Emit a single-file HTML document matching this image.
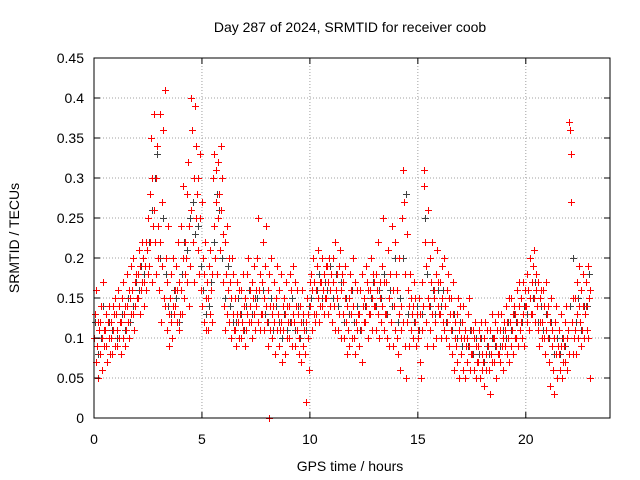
<!DOCTYPE html>
<html><head><meta charset="utf-8"><style>
body{margin:0;background:#fff;}
svg{display:block;font-family:"Liberation Sans",sans-serif;}
</style></head><body>
<svg id="chart" width="640" height="480" viewBox="0 0 640 480">
<rect width="640" height="480" fill="#fff"/>
<text x="350" y="32" font-size="14" text-anchor="middle">Day 287 of 2024, SRMTID for receiver coob</text>
<text x="350" y="471" font-size="14" text-anchor="middle">GPS time / hours</text>
<text transform="translate(19,238) rotate(-90)" font-size="14" text-anchor="middle">SRMTID / TECUs</text>
<g id="grid"></g>
<g id="grey"></g>
<g id="red"></g>
<g id="axes"></g>
</svg>
<script>
const xTicks=[0,5,10,15,20];
const yTicks=[0,0.05,0.1,0.15,0.2,0.25,0.3,0.35,0.4,0.45];
const yTickLabels=["0","0.05","0.1","0.15","0.2","0.25","0.3","0.35","0.4","0.45"];
const binHours=0.25;
const redBins=[
[10,13,7,16,9,12,5,11],[8,12,14,6,10,17,9,11],[11,9,13,7,12,10,14,8],[12,10,8,14,11,13,9,15],
[13,9,11,16,10,14,12,8],[12,15,10,17,13,9,14,11],[14,18,12,16,10,15,13,19],[16,13,20,11,17,14,18,15],
[18,15,21,13,19,16,22,17],[20,17,14,19,22,16,21,18],[25,19,28,22,35,17,30,24],[38,26,22,30,18,34,24,20],
[16,22,38,12,27,19,36,15],[41,14,20,11,17,24,13,9],[15,12,18,10,14,20,13,16],[14,19,12,16,22,11,17,13],
[16,24,13,20,29,15,18,22],[20,28,17,32,14,24,19,26],[40,36,22,30,17,39,25,34],[28,21,30,18,25,33,16,27],
[14,20,12,18,22,15,11,17],[15,11,19,13,21,16,12,18],[30,24,33,20,27,31,18,25],[32,28,21,34,26,30,17,23],
[14,22,11,18,24,13,16,20],[12,17,10,15,20,13,18,11],[11,15,9,17,13,12,16,10],[13,10,16,12,18,11,14,9],
[15,11,18,13,20,12,16,14],[12,17,10,15,19,13,11,16],[14,20,12,25,16,11,18,13],[17,13,22,15,11,19,14,24],
[12,16,9,18,14,11,20,13],[10,14,17,12,8,15,19,11],[13,9,16,11,18,12,7,14],[11,15,8,13,17,10,14,12],
[14,10,18,12,16,9,13,19],[12,17,9,14,11,16,13,8],[10,14,7,12,16,9,13,11],[8,12,2,15,10,13,6,17],
[14,18,11,16,20,13,17,12],[16,13,19,15,21,12,17,14],[17,14,20,16,13,18,15,19],[15,19,13,17,20,14,16,18],
[12,17,20,14,22,11,16,18],[15,11,19,13,21,16,10,18],[13,17,10,15,19,12,8,14],[11,15,9,18,13,16,10,20],
[14,10,17,8,12,16,11,13],[9,13,16,11,18,7,14,12],[15,12,19,14,17,10,16,13],[16,13,20,15,11,18,14,17],
[14,18,11,16,22,13,10,17],[15,12,19,14,25,11,17,13],[13,17,10,21,15,9,18,12],[12,24,16,9,14,22,11,18],
[10,16,8,13,20,6,14,11],[25,31,12,27,9,18,5,23],[12,16,9,14,18,11,15,13],[14,10,17,12,15,9,13,11],
[10,15,7,13,5,17,11,14],[29,31,22,12,19,9,15,26],[14,20,11,17,22,13,9,16],[15,12,18,10,21,14,17,13],
[13,17,10,19,15,12,20,11],[14,10,16,12,18,9,15,13],[11,15,8,13,17,6,12,10],[9,13,7,15,11,5,14,10],
[8,12,6,14,10,5,11,9],[10,7,13,9,15,6,11,8],[8,11,6,10,12,5,9,7],[9,7,11,5,10,12,8,6],
[7,10,4,12,8,6,11,9],[9,6,11,3,8,13,7,10],[10,7,12,9,5,11,8,13],[8,11,7,13,9,6,10,12],
[11,9,14,8,12,10,15,7],[12,9,15,11,13,8,14,10],[13,10,16,12,9,14,17,11],[12,15,10,17,13,9,14,16],
[14,18,12,16,11,20,15,13],[17,13,19,15,21,12,16,18],[14,11,17,9,15,12,16,10],[12,16,10,14,8,17,11,13],
[10,14,7,12,4,15,9,11],[6,10,3,12,8,14,5,9],[8,11,6,13,9,5,10,7],[9,12,7,14,10,6,11,8],
[37,36,33,27,12,8,15,10],[11,15,8,13,17,10,14,19],[12,9,16,11,14,18,10,13],[14,17,11,19,10,15,5,16]
];
const greyBins=[
[12,8],[10,14],[9,12],[11,13],[10,12],[13,11],[15,12],[14,17],[16,19],[18,21],[22,26],[30,33],
[20,25],[18,14],[13,16],[15,12],[18,22],[21,25],[27,23],[24,19],[16,13],[14,17],[22,28],[26,20],
[15,19],[14,12],[12,15],[13,11],[14,16],[13,15],[15,18],[16,13],[12,15],[11,14],[12,10],[13,11],
[12,15],[11,14],[10,12],[11,14],[15,17],[16,18],[15,17],[16,19],[15,18],[14,17],[12,15],[13,16],
[12,14],[11,14],[14,16],[15,17],[14,16],[15,18],[13,16],[14,20],[12,15],[20,28],[13,15],[12,14],
[11,13],[25,18],[14,16],[13,16],[14,16],[12,15],[11,13],[10,12],[9,11],[9,11],[8,10],[8,10],
[7,9],[8,10],[9,11],[9,11],[10,12],[11,13],[12,14],[12,14],[13,15],[15,17],[12,14],[11,13],
[10,12],[8,10],[8,10],[9,11],[14,20],[12,15],[11,14],[14,18]
];
const extraRed=[[8.1,0]];
const X0=94,X1=610,Y0=418,Y1=58,XMAX=23.9,YMAX=0.45;
const xs=t=>X0+t/XMAX*(X1-X0);
const ys=v=>Y0-v/YMAX*(Y0-Y1);
const NS="http://www.w3.org/2000/svg";
function mk(tag,attrs,parent){const e=document.createElementNS(NS,tag);for(const k in attrs)e.setAttribute(k,attrs[k]);parent.appendChild(e);return e;}
const grid=document.getElementById('grid'),axes=document.getElementById('axes');
yTicks.forEach((v,i)=>{const y=ys(v);
 if(i>0&&i<yTicks.length-1){const g=mk('line',{x1:X0,x2:X1,y1:y,y2:y,stroke:'#a0a0a0','stroke-dasharray':'1,2'},grid);
 
 }
 const t1=mk('line',{x1:X0,x2:X0+6,y1:y,y2:y,stroke:'#000'},axes);
 
 
 mk('line',{x1:X1,x2:X1-6,y1:y,y2:y,stroke:'#000'},axes);
 const l=mk('text',{x:X0-10,y:y+5,'font-size':14,'text-anchor':'end'},axes);l.textContent=yTickLabels[i];
 
 
});
xTicks.forEach(v=>{const x=xs(v);
 if(v>0){const g=mk('line',{x1:x,x2:x,y1:Y0,y2:Y1,stroke:'#a0a0a0','stroke-dasharray':'1,2'},grid);
 
 }
 const t1=mk('line',{x1:x,x2:x,y1:Y0,y2:Y0-6,stroke:'#000'},axes);
 
 
 mk('line',{x1:x,x2:x,y1:Y1,y2:Y1+6,stroke:'#000'},axes);
 const l=mk('text',{x:x,y:Y0+26,'font-size':14,'text-anchor':'middle'},axes);l.textContent=String(v);
 
 
});
const fr=mk('rect',{x:X0,y:Y1,width:X1-X0,height:Y0-Y1,fill:'none',stroke:'#000'},axes);


function plus(parent,t,v,color,name){const x=Math.round(xs(t))+0.5,y=Math.round(ys(v))+0.5;
 const p=mk('path',{d:`M${x-3.5},${y}H${x+3.5}M${x},${y-3.5}V${y+3.5}`,stroke:color,'stroke-width':1,fill:'none'},parent);
 
 }
function drawBins(bins,parent,color,name){bins.forEach((b,i)=>{b.forEach((v,j)=>{const t=i*binHours+(j+0.5)*binHours/b.length;plus(parent,t,v/100,color,name);});});}
drawBins(greyBins,document.getElementById('grey'),'#404040','grey-point');
drawBins(redBins,document.getElementById('red'),'#ff0000','red-point');
extraRed.forEach(p=>plus(document.getElementById('red'),p[0],p[1],'#ff0000','red-point'));
</script>
</body></html>
